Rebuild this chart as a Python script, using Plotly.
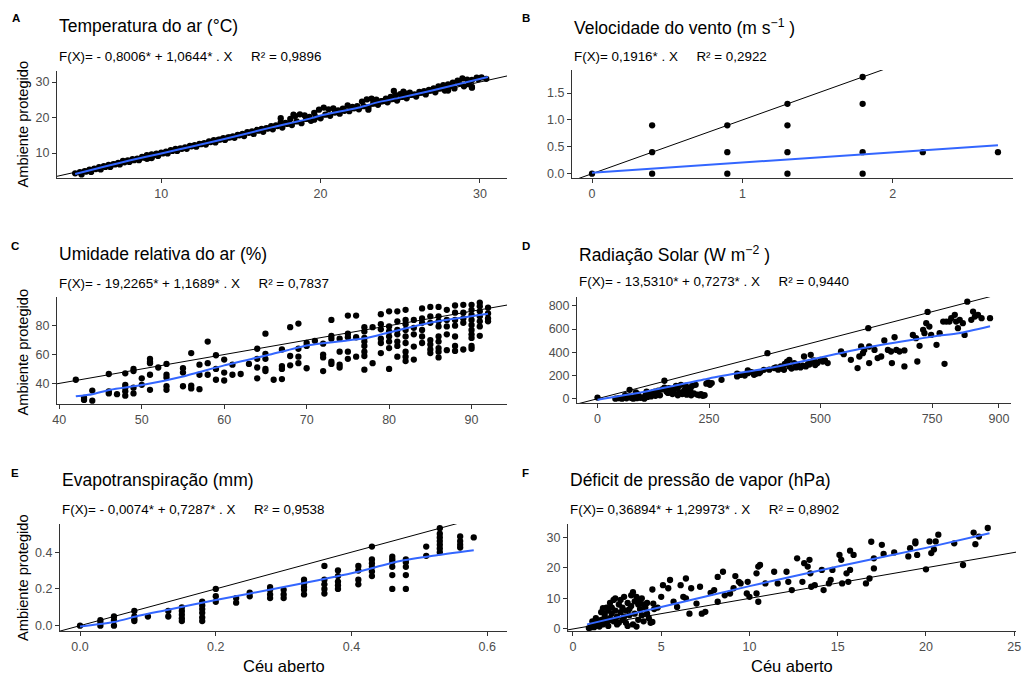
import plotly.graph_objects as go

W, H = 1022, 674
FONT = "Liberation Sans, Arial, sans-serif"
NB = "\u00a0"

# ---------------- Data ----------------
# Panel A - Temperatura do ar
A_x = [4.6,4.9,5.2,5.5,5.8,6.1,6.4,6.7,7.0,7.3,7.6,7.9,8.2,8.5,8.8,9.1,9.4,9.7,10.0,10.3,
       10.6,10.9,11.2,11.5,11.8,12.1,12.4,12.7,13.0,13.3,13.6,13.9,14.2,14.5,14.8,15.1,15.4,15.7,16.0,16.3,
       16.6,16.9,17.2,17.5,17.8,18.1,18.4,18.7,19.0,19.3,19.6,19.9,20.2,20.5,20.8,21.1,21.4,21.7,22.0,22.3,
       22.6,22.9,23.2,23.5,23.8,24.1,24.4,24.7,25.0,25.3,25.6,25.9,26.2,26.5,26.8,27.1,27.4,27.7,28.0,28.3,
       28.6,28.9,29.2,29.5,29.8,30.1,30.4,
       5.0,5.6,6.2,6.8,7.4,8.0,8.6,9.2,9.8,10.4,11.0,11.6,12.2,12.8,13.4,14.0,14.6,15.2,15.8,16.4,
       17.0,17.6,18.2,18.8,19.4,20.0,20.6,21.2,21.8,22.4,23.0,23.6,24.2,24.8,25.4,26.0,26.6,27.2,27.8,28.4,
       29.0,29.5,29.3,
       5.3,5.9,6.5,7.1,7.7,8.3,8.9,9.5,10.1,10.7,11.3,11.9,12.5,13.1,13.7,14.3,14.9,15.5,16.1,16.7,
       17.3,17.9,18.5,19.1,19.7,20.3,20.9,21.5,22.1,22.7,23.3,23.9,24.5,25.1,25.7,26.3,26.9,27.5,28.1,28.7,
       29.3,29.9,
       9.1,9.4,17.5,18.3,19.6,23.0,24.6,25.2,28.0,29.5]
A_y = [4.3,4.6,4.9,5.3,5.6,6.0,6.3,6.7,6.9,7.2,7.8,7.9,8.3,8.4,8.9,9.4,9.6,9.8,10.1,10.4,
       10.8,11.2,11.3,11.6,12.0,12.2,12.6,12.8,13.3,13.6,13.8,14.2,14.4,14.7,15.1,15.4,15.9,16.1,16.5,16.8,
       17.0,17.6,17.8,18.6,18.5,19.6,20.4,20.9,20.6,20.2,21.3,22.2,22.8,22.3,22.6,22.0,22.5,23.4,23.0,23.2,
       24.5,25.1,25.3,25.0,24.6,25.3,25.8,26.3,26.6,26.8,27.0,26.5,27.2,27.4,27.8,28.2,28.8,29.1,29.3,29.8,
       30.4,31.0,30.7,30.6,31.2,31.3,30.9,
       4.0,4.7,5.4,6.1,6.8,7.5,8.0,8.6,9.2,9.9,10.6,11.2,11.8,12.4,13.0,13.7,14.3,14.8,15.4,16.0,
       16.7,17.2,17.9,18.4,19.1,19.8,20.5,21.1,21.8,22.3,22.9,23.6,24.3,24.8,25.4,25.9,26.5,27.1,27.6,28.2,
       28.8,28.4,29.4,
       4.8,5.5,6.1,6.8,7.4,8.0,8.7,9.3,9.9,10.6,11.2,11.9,12.5,13.1,13.8,14.4,15.0,15.7,16.3,16.9,
       17.6,18.2,18.9,19.6,20.1,20.8,21.4,21.9,22.6,23.2,23.9,24.6,25.2,25.8,26.4,27.0,27.6,28.2,28.9,29.6,
       30.2,30.8,
       8.4,8.6,19.8,20.8,19.4,22.2,27.5,27.3,27.6,28.6]
A_fit_x = [4.6, 8.0, 10.0, 12.0, 15.0, 17.0, 19.5, 20.0, 22.5, 23.5, 25.0, 27.0, 30.5]
A_fit_y = [4.1, 7.9, 9.9, 11.9, 15.1, 17.3, 19.9, 20.6, 22.9, 24.2, 25.6, 27.6, 31.4]

# Panel B - Velocidade do vento
B_x = [0.0, 0.4, 0.4, 0.4, 0.9, 0.9, 0.9, 1.3, 1.3, 1.3, 1.3, 1.8, 1.8, 1.8, 1.8, 2.2, 2.7]
B_y = [0.0, 0.9, 0.4, 0.0, 0.9, 0.4, 0.0, 1.3, 0.9, 0.4, 0.0, 1.8, 1.3, 0.4, 0.0, 0.4, 0.4]
B_fit_x = [0.0, 2.7]
B_fit_y = [0.02, 0.53]

# Panel C - Umidade relativa do ar (grouped by open-sky value)
C_levels = [42, 43, 44, 46, 47, 48, 49, 50, 51, 52, 53, 55, 56, 57, 58, 59, 60, 61, 62, 63,
            64, 65, 66, 67, 68, 69, 70, 71, 72, 73, 74, 75, 76, 77, 78, 79, 80, 81, 82, 83,
            84, 85, 86, 87, 88, 89, 90, 91, 92]
C_values = [[42.5], [28.5, 30], [35, 28], [46.5, 33, 34.5], [32.5], [47, 39, 37, 34.5, 31.5],
            [50, 48.5, 37, 33], [43.5, 39], [57, 55, 54, 46, 35.5], [51], [53.5, 46, 44, 38, 35.5],
            [50.5, 47.5, 38], [61, 38.5, 36.5], [53, 46, 36], [69, 54, 46], [59.5, 50, 42.5],
            [56.5, 47.5, 42], [53, 46], [46.5], [53.5], [64, 57, 51, 43.5], [74.5, 60.5, 57, 50, 48.5],
            [42.5], [63.5, 52, 50, 43], [79, 59, 52.5], [81.5, 64, 58.5, 54], [68, 66, 50.5], [69.5],
            [67.5, 60, 58, 48.5], [84, 73, 71, 55, 53.5], [71, 62, 53, 51], [87, 74.5, 72, 62, 57],
            [87, 72, 58.5], [79, 76, 71.5, 69, 66, 62, 59, 49.5], [79, 54], [88, 81, 77.5, 71, 68, 61],
            [90, 79.5, 76, 72.5, 69, 64.5, 50], [90, 83, 77, 74, 69, 66, 58.5],
            [91, 84, 81, 77, 72.5, 68, 62, 58.5, 55.5], [84, 78.5, 74, 65.5, 56.5],
            [92, 85, 82, 77, 72.5, 68], [93, 86.5, 82, 70, 67, 63.5, 61],
            [93, 86.5, 83, 79.5, 72.5, 69, 64.5, 62, 58], [91, 84, 79.5, 74, 63],
            [94, 89, 84, 80, 72.5, 66, 62.5], [94.5, 89, 85, 82, 63.5],
            [94.5, 91, 87.5, 84, 80.5, 77, 74, 71.5, 66, 64], [96, 93.5, 90, 86.5, 83, 79.5, 73],
            [92.5, 88.5, 85, 83]]
C_fit_x = [42, 44, 46.2, 50.2, 55, 60, 65.2, 70.2, 74.9, 77.3, 80.1, 85.4, 92]
C_fit_y = [31.0, 32.5, 35.6, 39.0, 44.8, 52.5, 59.5, 66.5, 69.8, 71.5, 75.5, 82.5, 88.3]

# Panel D - Radiação Solar
D_x = [0, 40, 48, 55, 60, 65, 70, 72, 75, 80, 85, 88, 92, 96, 100, 105, 108, 112, 115, 120,
       124, 128, 132, 136, 140, 145, 150, 150, 155, 160, 164, 168, 172, 176, 180, 183, 187, 190, 194, 197,
       200, 204, 208, 212, 216, 220, 224, 228, 232, 236, 240, 244, 248, 252, 256, 180, 200, 170, 130, 110,
       90, 62, 86, 158, 210,
       278, 313, 313, 337, 337, 351, 362, 373, 381, 396, 405, 411, 418, 425, 430, 430, 441, 448, 455, 463,
       467, 472, 478, 482, 488, 493, 500, 505, 516, 546, 552, 568, 583, 587, 591, 595, 598, 607, 609, 609,
       621, 628, 636, 643, 651, 658, 660, 666, 670, 677, 688, 688,
       320, 330, 345, 355, 365, 385, 400, 415, 420, 435, 445, 460, 475, 485, 490, 510,
       707, 714, 717, 722, 730, 733, 737, 740, 744, 748, 760, 767, 775, 778, 782, 789, 793, 801, 804, 808,
       812, 819, 823, 829, 838, 842, 846, 853, 861, 880]
D_y = [10, 0, 5, 0, 12, 3, 20, 77, 8, 0, 15, 5, 25, 8, 12, 0, 30, 15, 45, 20,
       55, 60, 40, 70, 30, 80, 155, 95, 60, 90, 75, 40, 85, 110, 95, 55, 120, 40, 70, 110,
       100, 55, 80, 110, 45, 120, 35, 30, 40, 25, 30, 130, 140, 120, 135, 30, 35, 60, 25, 60,
       40, 30, 55, 50, 30,
       163, 215, 192, 244, 220, 206, 220, 249, 393, 264, 250, 278, 249, 320, 278, 335, 307, 292, 270, 364,
       278, 300, 378, 321, 290, 307, 335, 320, 307, 407, 384, 335, 264, 364, 450, 393, 421, 608, 450, 307,
       421, 350, 364, 502, 421, 407, 307, 530, 421, 407, 278, 416,
       205, 200, 230, 215, 230, 250, 270, 260, 300, 260, 270, 285, 295, 330, 310, 330,
       550, 522, 321, 456, 594, 565, 651, 748, 622, 550, 465, 565, 665, 301, 665, 665, 694, 723, 665, 608,
       680, 651, 550, 837, 680, 751, 708, 723, 694, 694]
D_fit_x = [0, 100, 170, 250, 330, 400, 500, 600, 700, 760, 810, 880]
D_fit_y = [-8, 55, 110, 175, 230, 275, 355, 440, 505, 540, 565, 625]

# Panel E - Evapotranspiração (grouped by open-sky value)
E_levels = [0.0, 0.03, 0.05, 0.08, 0.10, 0.13, 0.15, 0.18, 0.20, 0.23, 0.25, 0.28, 0.30, 0.33,
            0.36, 0.38, 0.41, 0.43, 0.46, 0.48, 0.51, 0.53, 0.56, 0.58]
E_values = [[0.0], [0.03, 0.015, 0.0], [0.05, 0.03, 0.0], [0.08, 0.05, 0.035, 0.025], [0.05],
            [0.08, 0.05], [0.10, 0.08, 0.06, 0.04, 0.025], [0.13, 0.11, 0.09, 0.07, 0.045, 0.025],
            [0.20, 0.16, 0.13], [0.15, 0.125], [0.18, 0.16], [0.21, 0.195, 0.17, 0.15],
            [0.195, 0.17, 0.15], [0.25, 0.23, 0.21, 0.195, 0.17], [0.325, 0.25, 0.225, 0.20, 0.175],
            [0.30, 0.27, 0.24, 0.22, 0.20], [0.325, 0.30, 0.25, 0.225],
            [0.43, 0.36, 0.34, 0.32, 0.295, 0.27], [0.375, 0.36, 0.345, 0.32, 0.275, 0.20],
            [0.36, 0.345, 0.32, 0.275, 0.20], [0.43, 0.38], [0.53, 0.50, 0.48, 0.46, 0.44, 0.42, 0.40],
            [0.485, 0.46, 0.44, 0.425], [0.48]]
E_fit_x = [0.0, 0.05, 0.088, 0.128, 0.20, 0.30, 0.40, 0.47, 0.52, 0.58]
E_fit_y = [-0.005, 0.02, 0.055, 0.085, 0.14, 0.21, 0.285, 0.35, 0.38, 0.41]

# Panel F - Déficit de pressão de vapor
F_x = [1.0, 1.1, 1.2, 0.9, 1.3, 1.2, 1.4, 1.5, 1.6, 1.5, 1.7, 1.8, 1.8, 1.9, 2.0, 2.0, 2.1, 2.2, 2.2, 2.3,
       2.4, 2.4, 2.5, 2.5, 2.6, 2.7, 2.7, 2.8, 2.8, 2.9, 3.0, 3.0, 3.1, 3.2, 3.3, 3.3, 3.4, 3.4, 3.5, 3.5,
       3.6, 3.7, 3.7, 3.8, 3.8, 3.9, 4.0, 4.0, 4.1, 4.2, 4.3, 4.4, 4.6, 4.8, 1.6, 1.9, 2.1, 2.3, 2.6, 3.1,
       2.9, 1.7, 3.6, 2.0, 1.3, 1.1, 2.4, 3.2, 3.9, 4.2,
       4.5, 4.55, 4.5, 5.1, 5.0, 5.5, 5.4, 5.7, 5.9, 6.1, 6.25, 6.4, 6.4, 6.6, 6.7, 7.2, 7.3, 7.5, 7.0, 7.8,
       8.0, 8.2, 8.2, 8.5, 8.6, 8.9, 9.2, 9.4, 9.5, 9.1, 9.9, 9.85, 10.0, 10.4, 10.6, 10.5, 10.5, 10.4, 10.9, 11.4,
       11.6, 12.1, 12.2, 12.4, 12.7, 13.0, 13.1, 13.3, 13.4, 13.45, 13.5, 13.7, 14.1, 14.2, 14.5, 14.7, 14.6, 15.1, 15.2, 15.25,
       15.6, 15.7, 15.7, 15.9, 15.5, 16.6, 16.8, 16.9, 17.05, 17.05, 17.5, 17.6, 18.2, 19.0, 19.1, 19.4, 19.5, 19.4, 20.0, 20.2,
       20.3, 20.45, 20.55, 20.7, 21.6, 22.1, 22.7, 22.8, 23.0, 23.5]
F_y = [0.5, 1.0, 1.5, 0.3, 2.0, 0.6, 1.2, 2.5, 3.0, 0.8, 1.5, 4.0, 5.0, 2.0, 6.0, 1.0, 3.5, 7.0, 5.0, 2.5,
       10.0, 6.0, 4.0, 1.5, 8.0, 9.5, 5.5, 3.0, 7.0, 10.5, 6.0, 2.0, 8.5, 4.5, 11.0, 7.5, 12.0, 1.5, 9.0, 5.0,
       10.5, 8.0, 3.0, 9.5, 6.5, 4.5, 8.0, 2.5, 7.0, 5.0, 3.5, 2.0, 6.5, 7.0, 5.5, 7.0, 8.5, 9.5, 2.0, 1.0,
       4.0, 6.8, 0.8, 3.0, 3.5, 2.5, 3.0, 6.5, 10.0, 8.5,
       12.9, 8.3, 2.3, 14.3, 10.5, 16.0, 13.3, 8.9, 7.2, 14.3, 10.5, 10.0, 16.5, 5.0, 13.3, 13.8, 5.0, 5.6, 8.3, 11.8,
       12.7, 8.9, 17.0, 18.7, 11.0, 11.6, 17.3, 15.4, 14.9, 13.3, 15.4, 11.6, 10.5, 18.2, 20.9, 20.4, 8.9, 11.6, 14.9, 18.7,
       14.9, 18.7, 15.4, 12.7, 23.1, 15.4, 21.5, 20.4, 22.6, 18.2, 13.8, 14.3, 19.3, 12.7, 14.9, 19.3, 16.0, 24.2, 22.6, 14.9,
       15.4, 19.3, 25.6, 24.2, 18.2, 14.9, 16.5, 28.5, 23.1, 19.8, 27.5, 24.5, 25.0, 23.7, 26.4, 28.6, 24.2, 28.0, 19.5, 28.6,
       24.8, 26.0, 28.6, 30.8, 28.0, 20.9, 31.5, 27.7, 30.2, 33.0]
F_fit_x = [0.8, 5.0, 10.0, 15.0, 20.0, 23.6]
F_fit_y = [1.5, 7.2, 14.0, 20.4, 26.5, 31.3]

# Titles, equations and axis ticks
letters = ["A", "B", "C", "D", "E", "F"]
titles = ["Temperatura do ar (°C)",
          "Velocidade do vento (m s<sup>\u22121</sup> )",
          "Umidade relativa do ar (%)",
          "Radiação Solar (W m<sup>\u22122</sup> )",
          "Evapotranspiração (mm)",
          "Déficit de pressão de vapor (hPa)"]
equations = ["F(X)= - 0,8006* + 1,0644* . X", "F(X)= 0,1916* . X",
             "F(X)= - 19,2265* + 1,1689* . X", "F(X)= - 13,5310* + 0,7273* . X",
             "F(X)= - 0,0074* + 0,7287* . X", "F(X)= 0,36894* + 1,29973* . X"]
r2 = ["0,9896", "0,2922", "0,7837", "0,9440", "0,9538", "0,8902"]
x_ticks = [[10, 20, 30], [0, 1, 2], [40, 50, 60, 70, 80, 90], [0, 250, 500, 750, 900],
           [0.0, 0.2, 0.4, 0.6], [0, 5, 10, 15, 20, 25]]
y_ticks = [[10, 20, 30], [0.0, 0.5, 1.0, 1.5], [40, 60, 80], [0, 200, 400, 600, 800],
           [0.0, 0.2, 0.4], [0, 10, 20, 30]]
tick_fmt_x = ["d", "d", "d", "d", ".1f", "d"]
tick_fmt_y = ["d", ".1f", "d", "d", ".1f", "d"]
y_title = "Ambiente protegido"
x_title = "Céu aberto"

# ---------------- Layout geometry (pixels) ----------------
boxes = [(57, 507, 71, 178), (572, 1013, 70, 178),
         (57, 507, 297, 404), (577, 1011, 297, 403),
         (60, 507, 524, 631), (568, 1016, 524, 631)]
x_ranges = [[3.46, 31.7], [-0.133, 2.80], [39.72, 94.3], [-46, 927], [-0.0295, 0.629], [-0.28, 25.1]]
y_ranges = [[2.98, 33.1], [-0.08, 1.93], [25.7, 99.9], [-37, 877], [-0.029, 0.553], [-0.66, 34.3]]
letter_pos = [(16, 18), (526, 18), (15, 245.5), (526, 245.5), (15, 473), (525, 473)]
title_y = [26.5, 27, 254, 254, 480, 480]
eq_y = [56.7, 56.7, 283.3, 281.7, 509, 509]


def flatten(levels, values):
    xs, ys = [], []
    for lv, vals in zip(levels, values):
        for v in vals:
            xs.append(lv)
            ys.append(v)
    return xs, ys


C_x, C_y = flatten(C_levels, C_values)
E_x, E_y = flatten(E_levels, E_values)

points = [(A_x, A_y), (B_x, B_y), (C_x, C_y), (D_x, D_y), (E_x, E_y), (F_x, F_y)]
fits = [(A_fit_x, A_fit_y), (B_fit_x, B_fit_y), (C_fit_x, C_fit_y),
        (D_fit_x, D_fit_y), (E_fit_x, E_fit_y), (F_fit_x, F_fit_y)]

fig = go.Figure()
annotations = []
layout_axes = {}

for i in range(6):
    n = "" if i == 0 else str(i + 1)
    xa, ya = "x" + n, "y" + n
    l, r, t, b = boxes[i]
    xr, yr = x_ranges[i], y_ranges[i]

    px, py = points[i]
    fig.add_trace(go.Scatter(x=px, y=py, mode="markers", xaxis=xa, yaxis=ya,
                             marker=dict(color="black", size=6.3, line=dict(width=0)),
                             showlegend=False, hoverinfo="x+y"))
    lo, hi = min(xr[0], yr[0]), max(xr[1], yr[1])
    fig.add_trace(go.Scatter(x=[lo, hi], y=[lo, hi], mode="lines", xaxis=xa, yaxis=ya,
                             line=dict(color="black", width=1), showlegend=False,
                             hoverinfo="skip"))
    fx, fy = fits[i]
    fig.add_trace(go.Scatter(x=fx, y=fy, mode="lines", xaxis=xa, yaxis=ya,
                             line=dict(color="#3366FF", width=2, shape="spline", smoothing=0.6),
                             showlegend=False, hoverinfo="skip"))

    common = dict(showgrid=False, zeroline=False, showline=True, linecolor="#333333",
                  linewidth=1, ticks="outside", ticklen=4, tickcolor="#333333", tickwidth=1,
                  automargin=False,
                  tickfont=dict(family=FONT, size=12.5, color="#4D4D4D"))
    layout_axes["xaxis" + n] = dict(domain=[l / W, r / W], range=xr, anchor=ya,
                                    tickmode="array", tickvals=x_ticks[i],
                                    tickformat=tick_fmt_x[i], **common)
    layout_axes["yaxis" + n] = dict(domain=[1 - b / H, 1 - t / H], range=yr, anchor=xa,
                                    tickmode="array", tickvals=y_ticks[i],
                                    tickformat=tick_fmt_y[i], **common)

    lx, ly = letter_pos[i]
    annotations.append(dict(text="<b>" + letters[i] + "</b>", x=lx / W, y=1 - ly / H,
                            xref="paper", yref="paper", xanchor="center", yanchor="middle",
                            showarrow=False, font=dict(family=FONT, size=11.5, color="black")))
    annotations.append(dict(text=titles[i], x=l / W, y=1 - title_y[i] / H,
                            xref="paper", yref="paper", xanchor="left", yanchor="middle",
                            showarrow=False, font=dict(family=FONT, size=17.5, color="black")))
    annotations.append(dict(text=equations[i] + NB * 5 + "R² = " + r2[i],
                            x=l / W, y=1 - eq_y[i] / H,
                            xref="paper", yref="paper", xanchor="left", yanchor="middle",
                            showarrow=False, font=dict(family=FONT, size=13.4, color="black")))

# axis titles
for (cx, cy) in [(22.5, 124), (22.5, 352), (23, 578)]:
    annotations.append(dict(text=y_title, x=cx / W, y=1 - cy / H, xref="paper", yref="paper",
                            xanchor="center", yanchor="middle", textangle=-90, showarrow=False,
                            font=dict(family=FONT, size=14.6, color="black")))
for (cx, cy) in [(283.5, 666), (792, 666)]:
    annotations.append(dict(text=x_title, x=cx / W, y=1 - cy / H, xref="paper", yref="paper",
                            xanchor="center", yanchor="middle", showarrow=False,
                            font=dict(family=FONT, size=16.5, color="black")))

fig.update_layout(width=W, height=H, margin=dict(l=0, r=0, t=0, b=0, autoexpand=False),
                  paper_bgcolor="white", plot_bgcolor="white",
                  font=dict(family=FONT), annotations=annotations, **layout_axes)

fig.write_html("out.html", config={"displayModeBar": False},
               post_script="document.body.style.margin='0';document.body.style.overflow='hidden';")
